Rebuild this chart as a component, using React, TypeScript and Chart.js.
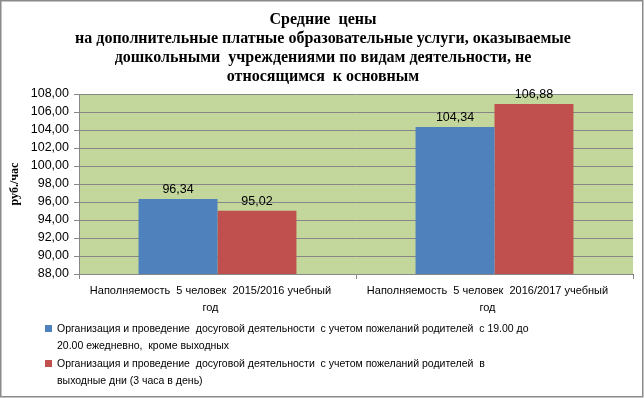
import React, { useEffect, useRef } from "react";
import { Chart, registerables } from "chart.js";

Chart.register(...registerables);

const titleLines = [
  "Средние  цены",
  "на дополнительные платные образовательные услуги, оказываемые",
  "дошкольными  учреждениями по видам деятельности, не",
  "относящимся  к основным",
];
const categories = [
  ["Наполняемость  5 человек  2015/2016 учебный", "год"],
  ["Наполняемость  5 человек  2016/2017 учебный", "год"],
];
const seriesWeekday = [96.34, 104.34];
const seriesWeekend = [95.02, 106.88];
const legendWeekday = [
  "Организация и проведение  досуговой деятельности  с учетом пожеланий родителей  с 19.00 до",
  "20.00 ежедневно,  кроме выходных",
];
const legendWeekend = [
  "Организация и проведение  досуговой деятельности  с учетом пожеланий родителей  в",
  "выходные дни (3 часа в день)",
];
const yMin = 88;
const yMax = 108;
const yStep = 2;
const yTitle = "руб./час";

const SANS = "'Liberation Sans', Arial, sans-serif";
const SERIF = "'Liberation Serif', 'Times New Roman', serif";
const BLUE = "#4F81BD";
const RED = "#C0504D";
const GREEN = "#C3D69B";
const GRID = "#878787";

const fmt = (v: number) => v.toFixed(2).replace(".", ",");

const decorPlugin = {
  id: "decor",
  beforeDraw(chart: any) {
    const { ctx, chartArea, width, height } = chart;
    ctx.save();
    ctx.fillStyle = "#ffffff";
    ctx.fillRect(0, 0, width, height);
    ctx.fillStyle = GREEN;
    ctx.fillRect(chartArea.left, chartArea.top, chartArea.right - chartArea.left, chartArea.bottom - chartArea.top);
    ctx.restore();
  },
  afterDraw(chart: any) {
    const { ctx, chartArea, width, height } = chart;
    ctx.save();
    // title
    ctx.fillStyle = "#000";
    ctx.textAlign = "center";
    ctx.textBaseline = "middle";
    ctx.font = `bold 16px ${SERIF}`;
    titleLines.forEach((t, i) => ctx.fillText(t, 323, 20 + i * 19));
    // y title
    ctx.save();
    ctx.translate(15, (chartArea.top + chartArea.bottom) / 2);
    ctx.rotate(-Math.PI / 2);
    ctx.font = `bold 12px ${SERIF}`;
    ctx.fillText(yTitle, 0, 0);
    ctx.restore();
    // value labels
    ctx.font = `12.5px ${SANS}`;
    ctx.textBaseline = "alphabetic";
    chart.data.datasets.forEach((ds: any, di: number) => {
      const meta = chart.getDatasetMeta(di);
      meta.data.forEach((bar: any, i: number) => {
        ctx.fillText(fmt(ds.data[i]), bar.x, bar.y - 6);
      });
    });
    // legend
    const items = [
      { color: BLUE, lines: legendWeekday },
      { color: RED, lines: legendWeekend },
    ];
    ctx.font = `10.5px ${SANS}`;
    ctx.textAlign = "left";
    ctx.textBaseline = "middle";
    let y = 329;
    items.forEach((it) => {
      ctx.fillStyle = it.color;
      ctx.fillRect(45, y - 4, 7, 7);
      ctx.fillStyle = "#000";
      it.lines.forEach((l, k) => {
        ctx.fillText(l, 57, y + k * 17.5);
      });
      y += 35;
    });
    // border
    ctx.strokeStyle = "#8a8a8a";
    ctx.lineWidth = 1.5;
    ctx.strokeRect(0.75, 0.75, width - 2, height - 2);
    ctx.restore();
  },
};

export default function App() {
  const ref = useRef<HTMLCanvasElement>(null);
  useEffect(() => {
    document.body.style.margin = "0";
    const chart = new Chart(ref.current!, {
      type: "bar",
      data: {
        labels: categories as any,
        datasets: [
          { label: legendWeekday.join(" "), data: seriesWeekday, backgroundColor: BLUE, categoryPercentage: 0.57, barPercentage: 1 },
          { label: legendWeekend.join(" "), data: seriesWeekend, backgroundColor: RED, categoryPercentage: 0.57, barPercentage: 1 },
        ],
      },
      options: {
        animation: false,
        responsive: false,
        events: [],
        layout: { padding: { top: 94, right: 11, bottom: 84, left: 0 } },
        plugins: { legend: { display: false }, title: { display: false }, tooltip: { enabled: false } },
        scales: {
          x: {
            grid: { display: true, drawOnChartArea: false, offset: true, tickLength: 5, color: GRID },
            border: { color: GRID },
            ticks: { color: "#000", font: { family: SANS, size: 11, lineHeight: 1.5 }, maxRotation: 0, autoSkip: false, padding: 4, labelOffset: -7 },
            afterFit: (s: any) => { s.height = 40; },
          },
          y: {
            min: yMin,
            max: yMax,
            ticks: { stepSize: yStep, autoSkip: false, color: "#000", font: { family: SANS, size: 12.5 }, padding: 5, callback: (v: any) => fmt(Number(v)) },
            grid: { color: GRID, tickLength: 5 },
            border: { color: GRID },
            afterFit: (s: any) => { s.width = 79; },
          },
        },
      },
      plugins: [decorPlugin],
    });
    return () => chart.destroy();
  }, []);
  return <canvas ref={ref} width={644} height={398} style={{ display: "block" }} />;
}
